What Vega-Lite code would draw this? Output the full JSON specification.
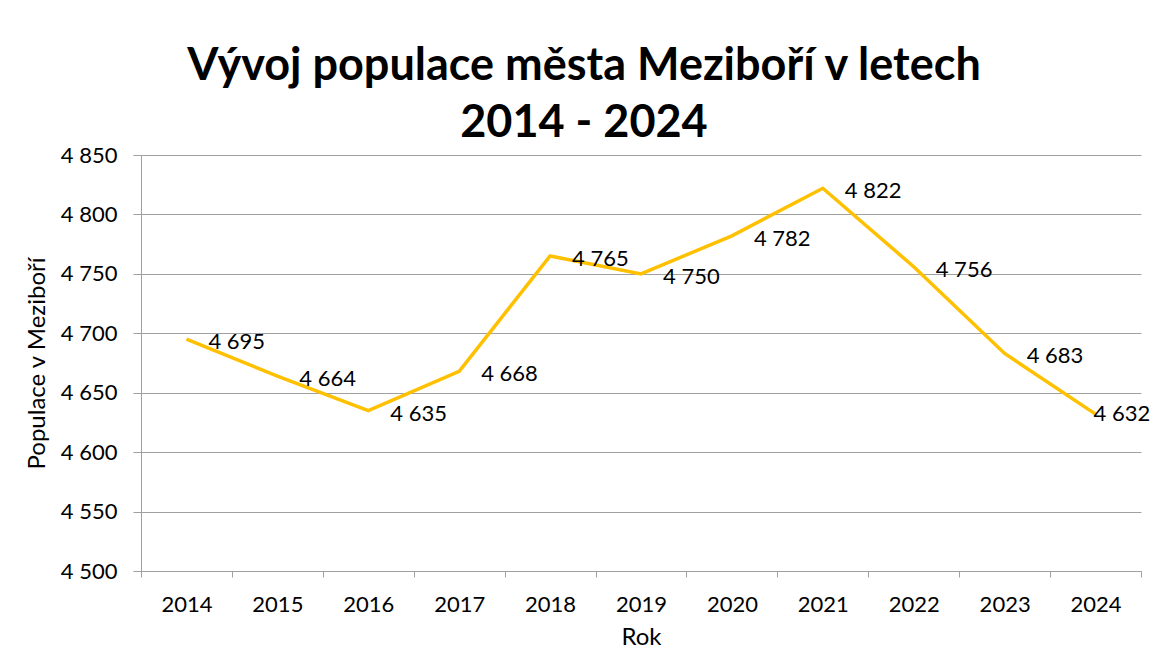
{
  "$schema": "https://vega.github.io/schema/vega-lite/v6.json",
  "width": 1000,
  "height": 416,
  "autosize": "none",
  "padding": {"left": 141, "top": 155, "right": 12, "bottom": 81},
  "background": "white",
  "title": {
    "text": ["Vývoj populace města Meziboří v letech", "2014 - 2024"],
    "font": "Lato",
    "fontSize": 45,
    "fontWeight": "bold",
    "color": "black",
    "lineHeight": 57,
    "dx": -57,
    "offset": -2
  },
  "data": {
    "values": [
      {"rok": "2014", "populace": 4695},
      {"rok": "2015", "populace": 4664},
      {"rok": "2016", "populace": 4635},
      {"rok": "2017", "populace": 4668},
      {"rok": "2018", "populace": 4765},
      {"rok": "2019", "populace": 4750},
      {"rok": "2020", "populace": 4782},
      {"rok": "2021", "populace": 4822},
      {"rok": "2022", "populace": 4756},
      {"rok": "2023", "populace": 4683},
      {"rok": "2024", "populace": 4632}
    ]
  },
  "encoding": {
    "x": {
      "field": "rok",
      "type": "ordinal",
      "scale": {"type": "band", "paddingInner": 0, "paddingOuter": 0},
      "axis": {
        "title": "Rok",
        "labelAngle": 0,
        "tickBand": "extent",
        "tickSize": 6,
        "labelPadding": 17,
        "titlePadding": 10,
        "grid": false
      }
    },
    "y": {
      "field": "populace",
      "type": "quantitative",
      "scale": {"domain": [4500, 4850], "nice": false, "zero": false},
      "axis": {
        "title": "Populace v Meziboří",
        "values": [4500, 4550, 4600, 4650, 4700, 4750, 4800, 4850],
        "labelExpr": "replace(format(datum.value, ','), ',', ' ')",
        "tickSize": 8,
        "labelPadding": 16,
        "titlePadding": 11,
        "grid": true
      }
    }
  },
  "layer": [
    {
      "mark": {"type": "line", "color": "#FFC000", "strokeWidth": 3.5}
    },
    {
      "transform": [{"filter": "datum.rok != '2024'"}],
      "mark": {"type": "text", "align": "left", "baseline": "middle", "dx": 22, "dy": 3, "font": "Lato", "fontSize": 22, "color": "black"},
      "encoding": {"text": {"field": "populace", "type": "quantitative", "format": ","}}
    },
    {
      "transform": [{"filter": "datum.rok == '2024'"}],
      "mark": {"type": "text", "align": "left", "baseline": "middle", "dx": -2, "dy": 0, "font": "Lato", "fontSize": 22, "color": "black"},
      "encoding": {"text": {"field": "populace", "type": "quantitative", "format": ","}}
    }
  ],
  "config": {
    "locale": {"number": {"decimal": ",", "thousands": " ", "grouping": [3], "currency": ["", " Kč"]}},
    "view": {"stroke": null},
    "axis": {
      "labelFont": "Lato",
      "labelFontSize": 22,
      "labelColor": "black",
      "titleFont": "Lato",
      "titleFontSize": 24,
      "titleFontWeight": "normal",
      "titleColor": "black",
      "domainColor": "#A0A0A0",
      "tickColor": "#A0A0A0",
      "gridColor": "#A0A0A0",
      "domainWidth": 1,
      "tickWidth": 1,
      "gridWidth": 1
    }
  }
}
